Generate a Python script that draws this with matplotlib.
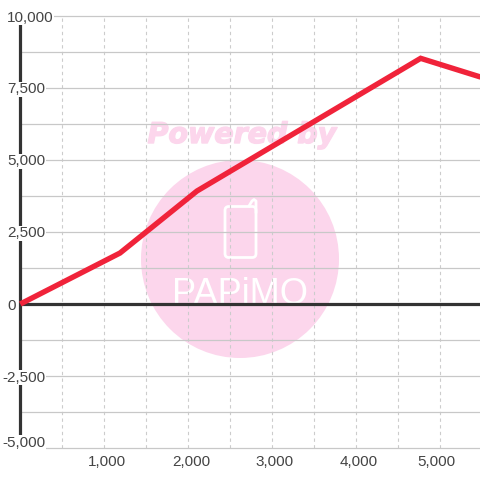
import matplotlib
matplotlib.use("Agg")
import matplotlib.pyplot as plt
import matplotlib.patheffects as pe
from matplotlib.patches import Circle, FancyBboxPatch

series_x = [0, 1187, 2103, 4766, 5480]
series_y = [0, 1770, 3923, 8530, 7880]
x_ticks = [1000, 2000, 3000, 4000, 5000]
x_labels = ["1,000", "2,000", "3,000", "4,000", "5,000"]
y_ticks = [10000, 7500, 5000, 2500, 0, -2500, -5000]
y_labels = ["10,000", "7,500", "5,000", "2,500", "0", "-2,500", "-5,000"]
x_grid = [500, 1000, 1500, 2000, 2500, 3000, 3500, 4000, 4500, 5000]
y_grid = [-5000, -3750, -2500, -1250, 1250, 2500, 3750, 5000, 6250, 7500, 8750, 10000]

plt.rcParams["font.family"] = ["Liberation Sans", "DejaVu Sans"]
W = H = 480
UNIT = 1250 / 36
fig = plt.figure(figsize=(4.8, 4.8), dpi=100)
ax = fig.add_axes([0, 0, 1, 1])
ax.set_xlim(-20.3 / 0.084, (480 - 20.3) / 0.084)
ax.set_ylim(-5000 - 32 * UNIT, 10000 + 16 * UNIT)
ax.axis("off")

def px(x, y):
    return x / W, 1 - y / H

# watermark
PINK = "#fcd6ec"
ax.add_patch(Circle(px(240, 259), 99 / W, transform=ax.transAxes, fc=PINK, ec="none", zorder=1))
ax.text(*px(242, 135), "Powered by", transform=ax.transAxes, ha="center", va="center",
        family="DejaVu Sans", weight="bold", style="oblique", fontsize=20.5, color=PINK, zorder=1,
        path_effects=[pe.withStroke(linewidth=1.0, foreground=PINK)])
ax.add_patch(FancyBboxPatch(px(225, 257.5), 31 / W, 51 / H, boxstyle="round,pad=0,rounding_size=0.008",
                            transform=ax.transAxes, fc="none", ec="white", lw=2.0, zorder=1.1))
ax.plot(*zip(px(249, 206), px(252, 201), px(254, 199.5), px(256, 201), px(256, 212)),
        transform=ax.transAxes, color="white", lw=2.0, solid_joinstyle="round", zorder=1.1)
ax.text(*px(240, 304), "PAPiMO", transform=ax.transAxes, ha="center", va="baseline",
        family="Liberation Sans", fontsize=26, color="white", zorder=1.1)

# grid
ax.vlines(x_grid, -5000, 10000, colors="#cccccc", lw=0.8, linestyles=(0, (3, 3)), zorder=2)
ax.hlines(y_grid, 0, ax.get_xlim()[1], colors="#c8c8c8", lw=0.9, zorder=2)

# axes
ax.vlines([0], -5000, 10000, colors="#333333", lw=2.3, zorder=3)
ax.hlines([0], 0, ax.get_xlim()[1], colors="#333333", lw=2.3, zorder=3)

# series
ax.plot(series_x, series_y, color="#f0233a", lw=3.9, solid_joinstyle="miter",
        solid_capstyle="butt", zorder=4)

# labels with white backing
box = dict(fc="white", ec="none", pad=0.5)
for v, s in zip(y_ticks, y_labels):
    yy = v - 1.5 * UNIT
    if v == -5000:
        yy = v + 6 * UNIT - 1 * UNIT
    xpx = 2 if v < 0 else 7
    tx, _ = px(xpx, 0)
    ax.text(tx, yy, s, transform=ax.get_yaxis_transform(), ha="left", va="center",
            fontsize=11, color="#444444", bbox=box, zorder=5)
for v, s in zip(x_ticks, x_labels):
    shift = -48 if v == 5000 else 30
    ax.text(v + shift, -5000 - 14 * UNIT, s, ha="center", va="center",
            fontsize=11, color="#444444", zorder=5)

fig.savefig("out.png", dpi=100)
